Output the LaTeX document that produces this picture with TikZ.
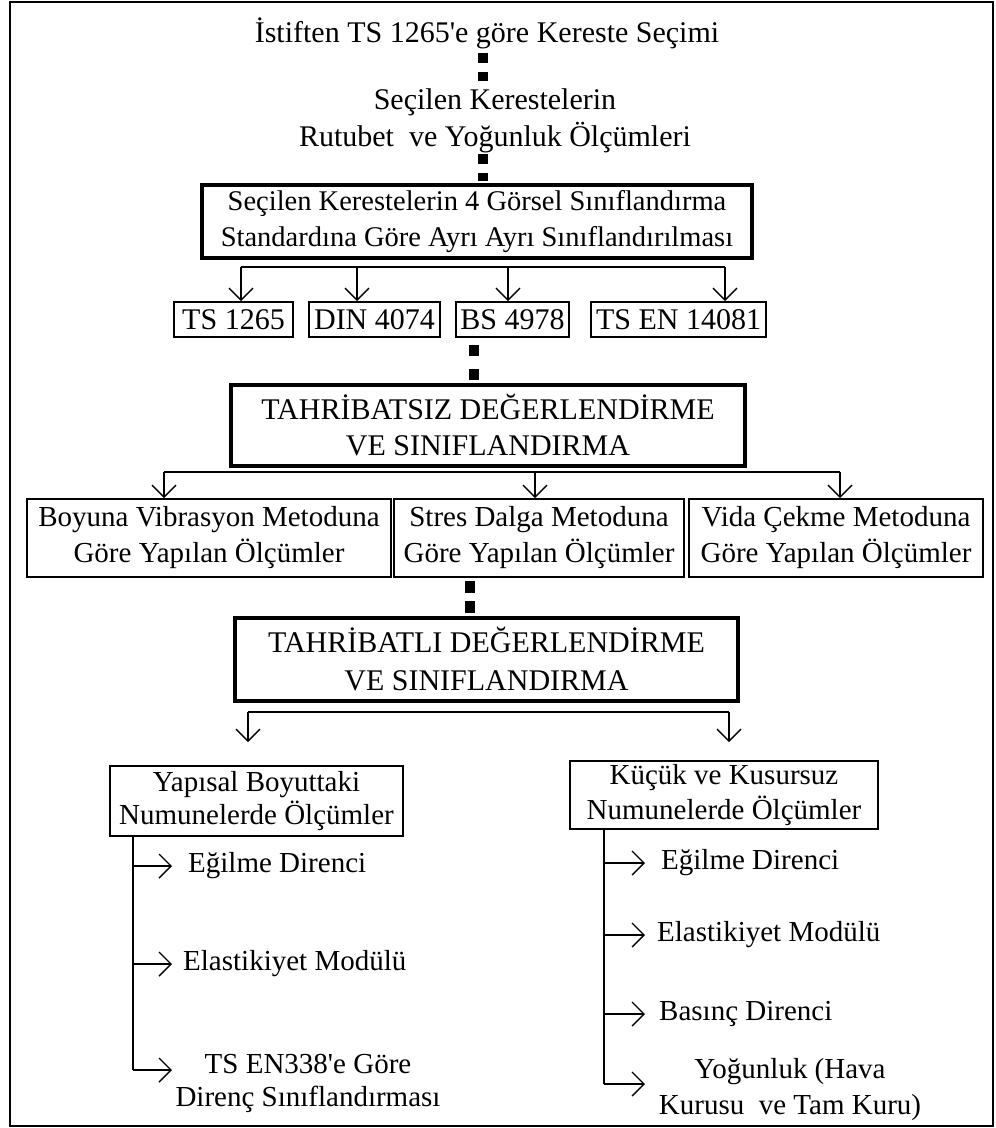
\documentclass[tikz,border=0pt]{standalone}
\usepackage{fontspec}
\setmainfont{Liberation Serif}[Ligatures=TeXOff]
\usetikzlibrary{arrows.meta}

\begin{document}
\begin{tikzpicture}[x=1pt,y=-1pt,
  box/.style={draw,line width=1.6pt,align=center,inner sep=0pt,font=\fontsize{29}{36}\selectfont},
  bigbox/.style={box,line width=4pt,font=\fontsize{30}{36}\selectfont},
  lab/.style={inner sep=0pt,align=center,font=\fontsize{29}{33}\selectfont},
  conn/.style={line width=1.4pt},
  arr/.style={conn,-{Straight Barb[length=12pt,width=24pt]}},
  dotline/.style={line width=10pt}]
\useasboundingbox (0,0) rectangle (996,1128);
\draw[line width=2.5pt] (10,2) rectangle (993,1126);

% top of the flow
\node[lab,font=\fontsize{30}{36}\selectfont] (secim) at (487,33) {İstiften TS 1265'e göre Kereste Seçimi};
\node[lab,font=\fontsize{30}{37}\selectfont] (rutubet) at (495,121) {Seçilen Kerestelerin\\Rutubet\ \ ve Yoğunluk Ölçümleri};
\node[bigbox,line width=3.5pt,font=\fontsize{28.5}{36}\selectfont,minimum width=550pt,minimum height=73pt] (gorsel) at (477,221.5) {Seçilen Kerestelerin 4 Görsel Sınıflandırma\\Standardına Göre Ayrı Ayrı Sınıflandırılması};
\coordinate (d1a) at (483,53); \coordinate (d1b) at (483,81);
\coordinate (d2a) at (483,154); \coordinate (d2b) at (483,181);
\draw[dotline,dash pattern=on 10pt off 9pt] (d1a) -- (d1b);
\draw[dotline,dash pattern=on 10pt off 9pt] (d2a) -- (d2b);

% standards
\node[box,font=\fontsize{30}{36}\selectfont,minimum width=119pt,minimum height=35pt] (ts) at (233.5,319.5) {TS 1265};
\node[box,font=\fontsize{30}{36}\selectfont,minimum width=131pt,minimum height=35pt] (din) at (374.5,319.5) {DIN 4074};
\node[box,font=\fontsize{30}{36}\selectfont,minimum width=113pt,minimum height=35pt] (bs) at (512.5,319.5) {BS 4978};
\node[box,font=\fontsize{30}{36}\selectfont,minimum width=175pt,minimum height=35pt] (en) at (678.5,319.5) {TS EN 14081};
\coordinate (b1) at (241,267); \coordinate (b2) at (357,267);
\coordinate (b3) at (508,267); \coordinate (b4) at (725,267);
\draw[conn] (b1) -- (b4);
\draw[arr] (b1) -- (b1 |- ts.north);
\draw[arr] (b2) -- (b2 |- din.north);
\draw[arr] (b3) -- (b3 |- bs.north);
\draw[arr] (b4) -- (b4 |- en.north);

% non destructive
\node[bigbox,minimum width=514pt,minimum height=81pt] (tsiz) at (488,425.5) {TAHRİBATSIZ DEĞERLENDİRME\\VE SINIFLANDIRMA};
\coordinate (d3a) at (474,345); \coordinate (d3b) at (474,380);
\draw[dotline,dash pattern=on 11pt off 13pt] (d3a) -- (d3b);
\node[box,minimum width=364pt,minimum height=78pt] (boyuna) at (209,538) {Boyuna Vibrasyon Metoduna\\Göre Yapılan Ölçümler};
\node[box,minimum width=290pt,minimum height=78pt] (stres) at (539,538) {Stres Dalga Metoduna\\Göre Yapılan Ölçümler};
\node[box,minimum width=294pt,minimum height=78pt] (vida) at (836,538) {Vida Çekme Metoduna\\Göre Yapılan Ölçümler};
\coordinate (c1) at (164,472); \coordinate (c2) at (535,472); \coordinate (c3) at (840,472);
\draw[conn] (c1) -- (c3);
\draw[arr] (c1) -- (c1 |- boyuna.north);
\draw[arr] (c2) -- (c2 |- stres.north);
\draw[arr] (c3) -- (c3 |- vida.north);

% destructive
\node[bigbox,font=\fontsize{30}{38}\selectfont,minimum width=503pt,minimum height=83pt] (tli) at (486.5,659.5) {TAHRİBATLI DEĞERLENDİRME\\VE SINIFLANDIRMA};
\coordinate (d4a) at (470,581); \coordinate (d4b) at (470,613);
\draw[dotline,dash pattern=on 12pt off 8pt] (d4a) -- (d4b);
\node[box,font=\fontsize{29}{33}\selectfont,minimum width=293pt,minimum height=70pt] (yapisal) at (256.5,801) {Yapısal Boyuttaki\\Numunelerde Ölçümler};
\node[box,font=\fontsize{29}{35}\selectfont,minimum width=308pt,minimum height=68pt] (kucuk) at (724,795) {Küçük ve Kusursuz\\Numunelerde Ölçümler};
\coordinate (e1) at (248,712); \coordinate (e2) at (729,712);
\draw[conn] (e1) -- (e2);
\draw[arr,shorten >=23pt] (e1) -- (e1 |- yapisal.north);
\draw[arr,shorten >=18pt] (e2) -- (e2 |- kucuk.north);

% left list
\node[lab,anchor=west] (legilme) at (188,866) {Eğilme Direnci};
\node[lab,anchor=west] (lelast) at (183,964) {Elastikiyet Modülü};
\node[lab] (lts) at (308,1083.5) {TS EN338'e Göre\\Direnç Sınıflandırması};
\coordinate (lstem) at (133,1070);
\draw[conn] (yapisal.south -| lstem) -- (lstem);
\draw[arr] (legilme.west -| lstem) -- ++(39,0);
\draw[arr] (lelast.west -| lstem) -- ++(39,0);
\draw[arr] (lstem) -- ++(39,0);

% right list
\node[lab,anchor=west] (regilme) at (661,863) {Eğilme Direnci};
\node[lab,anchor=west] (relast) at (657,935) {Elastikiyet Modülü};
\node[lab,anchor=west] (rbasinc) at (659,1014) {Basınç Direnci};
\node[lab,font=\fontsize{29}{36}\selectfont] (ryog) at (790,1090) {Yoğunluk (Hava\\Kurusu\ \ ve Tam Kuru)};
\coordinate (rstem) at (604,1084);
\draw[conn] (kucuk.south -| rstem) -- (rstem);
\draw[arr] (regilme.west -| rstem) -- ++(41,0);
\draw[arr] (relast.west -| rstem) -- ++(41,0);
\draw[arr] (rbasinc.west -| rstem) -- ++(41,0);
\draw[arr] (rstem) -- ++(41,0);
\end{tikzpicture}
\end{document}
